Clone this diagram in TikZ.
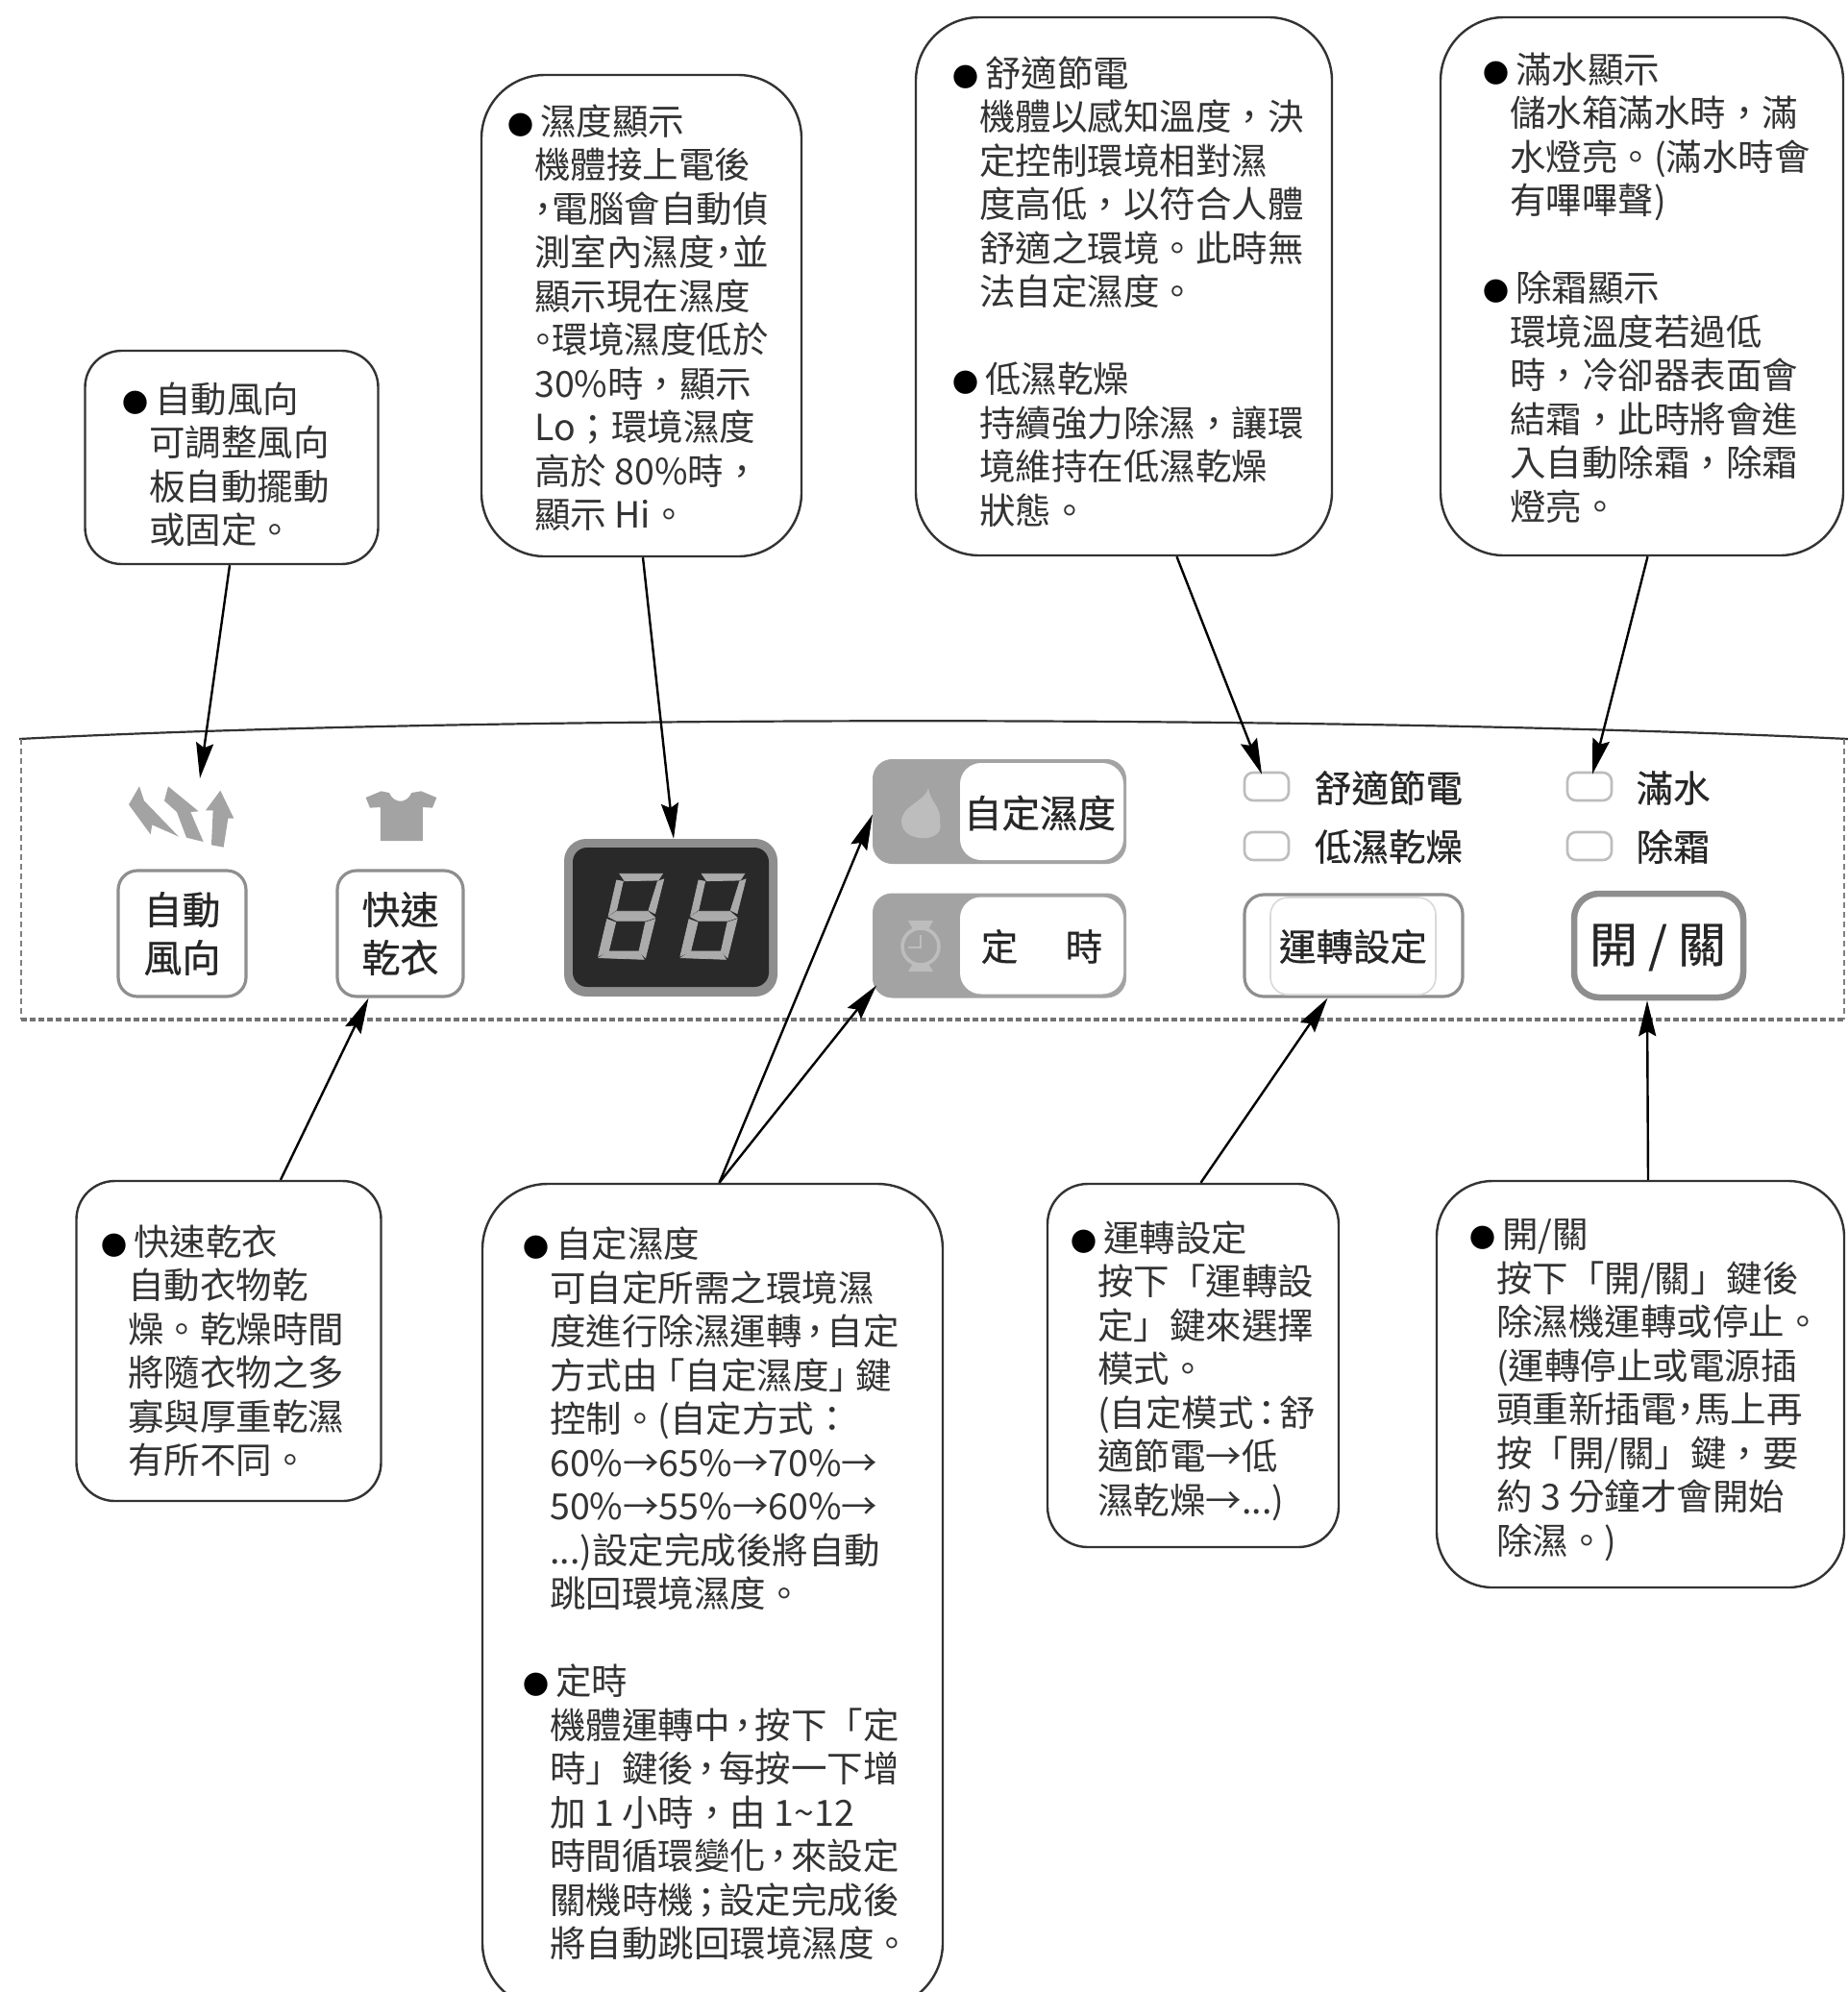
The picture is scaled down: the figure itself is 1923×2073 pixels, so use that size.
\documentclass[tikz,border=0pt]{standalone}
\usepackage{fontspec}
\setmainfont{Noto Sans CJK TC}
\newfontfamily\pfont[FakeBold=0.5]{Noto Sans CJK TC}
\usetikzlibrary{arrows.meta}
\definecolor{ink}{HTML}{333333}
\definecolor{pgray}{HTML}{A3A3A3}
\definecolor{lgray}{HTML}{BDBDBD}
\definecolor{bgray}{HTML}{8E8E8E}
\newcommand{\hc}{\makebox[0.5em][c]{，}}
\newcommand{\hcw}{\makebox[0.7em][c]{，}}
\newcommand{\hp}{\makebox[0.5em][c]{。}}
\newcommand{\hs}{\makebox[0.7em][c]{；}}
\newcommand{\hcol}{\makebox[0.7em][c]{：}}
\newcommand{\lbk}{\makebox[0.75em][r]{「}}
\newcommand{\rbk}{\makebox[0.75em][l]{」}}
\newcommand{\hd}[1]{\makebox[0pt][r]{\color{black}\fontsize{27}{27}\selectfont ●\hspace*{1pt}}\hspace*{6pt}#1}
\newcommand{\segdigit}[1]{%
\begin{scope}[shift={(570+#1/3,780)},x=0.3333pt,y=-0.3333pt]
\filldraw[seg] (225,388)--(358,388)--(345,408)--(240,410)--cycle;
\filldraw[seg] (215,408)--(235,412)--(215,500)--(190,518)--cycle;
\filldraw[seg] (343,412)--(362,405)--(335,512)--(315,502)--cycle;
\filldraw[seg] (190,522)--(215,505)--(312,505)--(335,525)--(305,535)--(215,535)--cycle;
\filldraw[seg] (185,530)--(212,540)--(190,630)--(158,645)--cycle;
\filldraw[seg] (335,530)--(305,540)--(285,630)--(305,650)--cycle;
\filldraw[seg] (160,650)--(190,630)--(285,630)--(300,655)--cycle;
\end{scope}}
\tikzset{
 seg/.style={fill=black!33,draw=black!33,line width=0.8pt},
 callout/.style={draw=ink,line width=2.4pt,fill=white,inner sep=0pt},
 ctext/.style={anchor=north west,inner sep=0pt,align=left,text=ink,font=\fontsize{37.5}{45.5}\selectfont},
 conn/.style={draw=black,line width=2.4pt,-{Stealth[length=37pt,width=18pt,inset=5pt]}},
 keybox/.style={draw=bgray,line width=3.2pt,fill=white,rounded corners=20pt,inner sep=0pt},
 led/.style={draw=lgray,line width=2.6pt,fill=white,rounded corners=9pt,minimum width=46pt,minimum height=29pt,inner sep=0pt},
 ptext/.style={text=black!85,inner sep=0pt,font=\pfont\fontsize{38.5}{50}\selectfont,align=center},
 sidekey/.style={fill=pgray,draw=bgray!80,line width=1pt,rounded corners=20pt,minimum width=263pt,minimum height=108pt,inner sep=0pt},
 sidewhite/.style={fill=white,rounded corners=22pt,minimum width=170pt,minimum height=101pt,inner sep=0pt},
}
\begin{document}
\begin{tikzpicture}[x=1pt,y=-1pt]
\clip (0,0) rectangle (1923,2073);
\fill[white] (0,0) rectangle (1923,2073);
% panel
\draw[ink,line width=2.2pt] (20,769) .. controls (500,744) and (1400,744) .. (1923,769);
\draw[gray,line width=1.6pt,dash pattern=on 6pt off 4pt] (22,769) -- (22,1061);
\draw[gray,line width=1.6pt,dash pattern=on 6pt off 4pt] (1919,769) -- (1919,1061);
\draw[black!55,line width=3.5pt,dash pattern=on 6pt off 3pt] (22,1061) -- (1919,1061);
% wind icon
\begin{scope}[shift={(110,790)},x=0.3333pt,y=-0.3333pt]
\fill[pgray] (105,85)--(72,142)--(140,235)--(145,205)--(228,242)--(120,130)--cycle;
\fill[pgray] (195,85)--(183,130)--(222,165)--(252,245)--(305,258)--(265,165)--(290,163)--cycle;
\fill[pgray] (358,98)--(312,160)--(335,160)--(330,268)--(368,275)--(382,185)--(400,185)--cycle;
\fill[pgray] (812,120)--(860,100)--(885,105) .. controls (900,140) and (940,140) .. (955,105)--(985,100)--(1033,120)--(1020,152)--(990,150)--(990,255)--(858,255)--(858,150)--(825,152)--cycle;
\end{scope}
\coordinate (windtip) at (208,810);
% keys
\node[keybox,minimum width=133pt,minimum height=131pt] (kwind) at (189.5,971.5) {};
\node[ptext,font=\pfont\fontsize{40}{50}\selectfont] (twind) at (189.5,971.5) {自動\\風向};
\node[keybox,minimum width=131pt,minimum height=131pt] (kdry) at (416.5,971.5) {};
\node[ptext,font=\pfont\fontsize{40}{50}\selectfont] (tdry) at (416.5,971.5) {快速\\乾衣};
% display
\node[fill=bgray,rounded corners=23pt,minimum width=222pt,minimum height=164pt,inner sep=0pt] (disp) at (698,955) {};
\node[fill=black!84,rounded corners=15pt,minimum width=204pt,minimum height=145pt,inner sep=0pt] (dispin) at (698,954.5) {};
\segdigit{0}\segdigit{256}
% side keys
\node[sidekey] (khum) at (1040,844.5) {};
\node[sidewhite] (khumw) at (1084,844.5) {};
\node[ptext,font=\pfont\fontsize{39.5}{50}\selectfont] (thum) at (1082,846) {自定濕度};
\fill[lgray] (966,820) .. controls (962,835) and (938,838) .. (938,855) .. controls (938,878) and (985,878) .. (978,855) .. controls (980,840) and (968,835) .. (966,820) -- cycle;
\node[sidekey] (ktim) at (1040,984) {};
\node[sidewhite] (ktimw) at (1084,984) {};
\node[ptext] (ttim1) at (1040,985) {定};
\node[ptext] (ttim2) at (1128,985) {時};
\draw[lgray,line width=3.6pt] (958,985) circle (19);
\fill[lgray] (945,958)--(971,958)--(966,967)--(950,967)--cycle;
\fill[lgray] (945,1011)--(971,1011)--(966,1003)--(950,1003)--cycle;
\draw[lgray,line width=2pt] (958,973)--(958,986)--(945,986);
% LEDs
\node[led] (l1) at (1318,818.5) {};
\node[led] (l2) at (1318,880.5) {};
\node[led] (l3) at (1654,818.5) {};
\node[led] (l4) at (1654,880.5) {};
\node[ptext] (tl1) at (1445,820) {舒適節電};
\node[ptext] (tl2) at (1445,881) {低濕乾燥};
\node[ptext] (tl3) at (1741,820) {滿水};
\node[ptext] (tl4) at (1741,881) {除霜};
\node[keybox,minimum width=227pt,minimum height=106pt] (krun) at (1408.5,984) {};
\draw[black!15,line width=1.6pt,rounded corners=18pt] (1322,934) rectangle (1494,1035);
\node[ptext] (trun) at (1408,985) {運轉設定};
\node[keybox,line width=6.5pt,rounded corners=26pt,minimum width=176pt,minimum height=108pt] (kpow) at (1726,984) {};
\node[ptext,font=\pfont\fontsize{50}{50}\selectfont] (tpow) at (1725,986) {開 / 關};
% callouts
\node[callout,rounded corners=38pt,minimum width=305pt,minimum height=222pt] (c1) at (241,476) {};
\node[ctext] (t1) at (155,397.5) {\hd{自動風向}\\可調整風向\\板自動擺動\\或固定。};
\node[callout,rounded corners=66pt,minimum width=333pt,minimum height=501pt] (c2) at (667.5,328.5) {};
\node[ctext] (t2) at (556,108.5) {\hd{濕度顯示}\\機體接上電後\\\hc 電腦會自動偵\\測室內濕度\hc 並\\顯示現在濕度\\\hp 環境濕度低於\\30\%時，顯示\\Lo；環境濕度\\高於 80\%時，\\顯示 Hi。};
\node[callout,rounded corners=66pt,minimum width=433pt,minimum height=560pt] (c3) at (1169.5,298) {};
\node[ctext] (t3) at (1019,58.5) {\hd{舒適節電}\\機體以感知溫度，決\\定控制環境相對濕\\度高低，以符合人體\\舒適之環境。此時無\\法自定濕度。\\[45.5pt]\hd{低濕乾燥}\\持續強力除濕，讓環\\境維持在低濕乾燥\\狀態。};
\node[callout,rounded corners=66pt,minimum width=419pt,minimum height=560pt] (c4) at (1708.5,298) {};
\node[ctext] (t4) at (1571,54.5) {\hd{滿水顯示}\\儲水箱滿水時，滿\\水燈亮。(滿水時會\\有嗶嗶聲)\\[45.5pt]\hd{除霜顯示}\\環境溫度若過低\\時，冷卻器表面會\\結霜，此時將會進\\入自動除霜，除霜\\燈亮。};
\node[callout,rounded corners=40pt,minimum width=317pt,minimum height=333pt] (c5) at (238,1395.5) {};
\node[ctext] (t5) at (133,1274.5) {\hd{快速乾衣}\\自動衣物乾\\燥。乾燥時間\\將隨衣物之多\\寡與厚重乾濕\\有所不同。};
\node[callout,rounded corners=68pt,minimum width=479pt,minimum height=858pt] (c6) at (741.5,1661) {};
\node[ctext] (t6) at (572,1277) {\hd{自定濕度}\\可自定所需之環境濕\\度進行除濕運轉\hcw 自定\\方式由\lbk 自定濕度\rbk 鍵\\控制。(自定方式：\\60\%→65\%→70\%→\\50\%→55\%→60\%→\\...)設定完成後將自動\\跳回環境濕度。\\[45.2pt]\hd{定時}\\機體運轉中\hcw 按下「定\\時」鍵後\hcw 每按一下增\\加 1 小時，由 1\textasciitilde 12\\時間循環變化\hcw 來設定\\關機時機\hs 設定完成後\\將自動跳回環境濕度。};
\node[callout,rounded corners=42pt,minimum width=303pt,minimum height=378pt] (c7) at (1241.5,1421) {};
\node[ctext] (t7) at (1142,1270.5) {\hd{運轉設定}\\按下「運轉設\\定」鍵來選擇\\模式。\\(自定模式\hcol 舒\\適節電→低\\濕乾燥→...)};
\node[callout,rounded corners=58pt,minimum width=424pt,minimum height=423pt] (c8) at (1707,1440.5) {};
\node[ctext] (t8) at (1557,1268.5) {\hd{開/關}\\按下「開/關」鍵後\\除濕機運轉或停止。\\(運轉停止或電源插\\頭重新插電\hc 馬上再\\按「開/關」鍵，要\\約 3 分鐘才會開始\\除濕。)};
% connectors
\draw[conn] ([xshift=-2pt]c1.south) -- (windtip);
\draw[conn] ([xshift=1.5pt]c2.south) -- ([xshift=3pt]disp.north);
\draw[conn] ([xshift=55pt]c3.south) -- ([xshift=-5pt,yshift=-3pt]l1.north);
\draw[conn] ([xshift=6pt]c4.south) -- ([xshift=3pt,yshift=-3pt]l3.north);
\draw[conn] ([xshift=54pt]c5.north) -- ([xshift=-33pt]kdry.south);
\draw[conn] ([xshift=7pt]c6.north) -- ([yshift=-3pt]khum.west);
\draw[conn] ([xshift=7pt]c6.north) -- ([xshift=4pt,yshift=13pt]ktim.south west);
\draw[conn] ([xshift=8pt]c7.north) -- ([xshift=-27pt]krun.south);
\draw[conn] ([xshift=8pt]c8.north) -- ([xshift=-12pt]kpow.south);
\end{tikzpicture}
\end{document}
